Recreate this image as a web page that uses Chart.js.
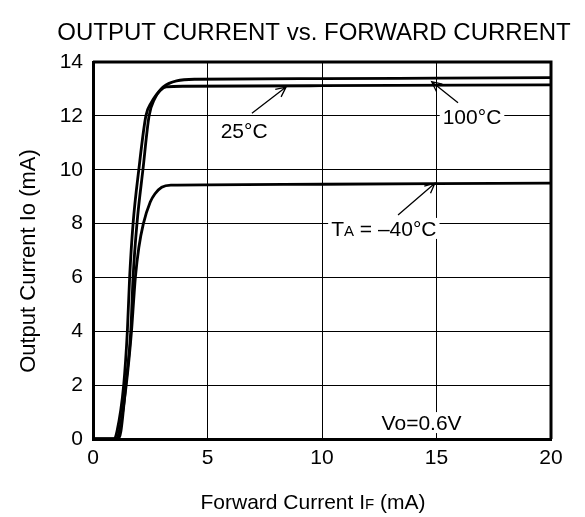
<!DOCTYPE html>
<html>
<head>
<meta charset="utf-8">
<script src="https://cdn.jsdelivr.net/npm/chart.js@4.4.1/dist/chart.umd.min.js"></script>
<style>
  html, body { margin: 0; padding: 0; background: #fff; }
  #wrap { width: 585px; height: 517px; }
</style>
</head>
<body>
<div id="wrap"><canvas id="chart" width="585" height="517"></canvas></div>
<script>
// Forward current IF (mA) / output current Io (mA)
const if100 = [0, 0.9, 1.05, 1.34, 1.5, 1.6, 1.75, 2.0, 2.31, 2.55, 2.78, 3.07, 3.65, 4.5, 10, 15, 20];
const io100 = [0, 0, 0.3, 2, 4, 6, 8, 10, 12, 12.5, 12.8, 13.08, 13.3, 13.36, 13.38, 13.4, 13.42];

const if25 = [0, 1.1, 1.22, 1.43, 1.65, 1.75, 1.92, 2.18, 2.45, 2.7, 2.95, 3.2, 4, 10, 20];
const io25 = [0, 0, 0.3, 2, 4, 6, 8, 10, 12, 12.65, 12.95, 13.08, 13.1, 13.12, 13.15];

const ifCold = [0, 1.0, 1.15, 1.45, 1.68, 1.78, 1.85, 2.0, 2.2, 2.5, 2.7, 3.0, 3.4, 5, 10, 20];
const ioCold = [0, 0, 0.3, 2, 4, 5.2, 6, 7.1, 8, 8.8, 9.1, 9.35, 9.43, 9.44, 9.46, 9.5];

const xTicks = [0, 5, 10, 15, 20];
const yTicks = [0, 2, 4, 6, 8, 10, 12, 14];

const FONT = '"Liberation Sans", Arial, sans-serif';

const toPoints = (xs, ys) => xs.map((x, i) => ({ x: x, y: ys[i] }));

// label + arrow positions, in data units
const notes = [
  { parts: [['25°C', 1]], at: [6.6, 11.47], from: [6.94, 12.1], to: [8.43, 13.07] },
  { parts: [['100°C', 1]], at: [16.55, 11.97], from: [15.94, 12.49], to: [14.79, 13.27] },
  { parts: [['T', 1], ['A', 0.72], [' = –40°C', 1]], at: [12.7, 7.82], from: [13.32, 8.32], to: [14.93, 9.5] },
  { parts: [['Vo=0.6V', 1]], at: [14.35, 0.61] }
];

function drawParts(ctx, parts, cx, cy, size, clearBg) {
  let widths = parts.map(p => {
    ctx.font = Math.round(size * p[1]) + 'px ' + FONT;
    return ctx.measureText(p[0]).width;
  });
  let total = widths.reduce((a, b) => a + b, 0);
  let x = cx - total / 2;
  if (clearBg) {
    ctx.fillStyle = '#fff';
    ctx.fillRect(x - 3, cy - size * 0.5, total + 6, size * 1.0);
  }
  ctx.fillStyle = '#000';
  ctx.textBaseline = 'alphabetic';
  ctx.textAlign = 'left';
  parts.forEach((p, i) => {
    ctx.font = Math.round(size * p[1]) + 'px ' + FONT;
    ctx.fillText(p[0], x, cy + size * 0.36);
    x += widths[i];
  });
}

function arrow(ctx, x1, y1, x2, y2) {
  const ang = Math.atan2(y2 - y1, x2 - x1);
  const len = 11, spread = 0.45;
  ctx.beginPath();
  ctx.moveTo(x1, y1);
  ctx.lineTo(x2, y2);
  ctx.moveTo(x2 - len * Math.cos(ang - spread), y2 - len * Math.sin(ang - spread));
  ctx.lineTo(x2, y2);
  ctx.lineTo(x2 - len * Math.cos(ang + spread), y2 - len * Math.sin(ang + spread));
  ctx.stroke();
}

const decorations = {
  id: 'decorations',
  afterDatasetsDraw(chart) {
    const { ctx, scales: { x, y }, chartArea: a } = chart;
    ctx.save();

    // top and right frame
    ctx.strokeStyle = '#000';
    ctx.lineWidth = 3;
    ctx.beginPath();
    ctx.moveTo(a.left, a.top);
    ctx.lineTo(a.right, a.top);
    ctx.lineTo(a.right, a.bottom);
    ctx.stroke();

    // annotations
    ctx.lineWidth = 1.3;
    notes.forEach(n => {
      drawParts(ctx, n.parts, x.getPixelForValue(n.at[0]), y.getPixelForValue(n.at[1]), 21, true);
      if (n.from) {
        ctx.strokeStyle = '#000';
        arrow(ctx, x.getPixelForValue(n.from[0]), y.getPixelForValue(n.from[1]),
              x.getPixelForValue(n.to[0]), y.getPixelForValue(n.to[1]));
      }
    });

    // chart title
    drawParts(ctx, [['OUTPUT CURRENT vs. FORWARD CURRENT', 1]], 314, 31, 24, false);

    // x axis title
    drawParts(ctx, [['Forward Current I', 1], ['F', 0.72], [' (mA)', 1]], 313, 501, 21, false);

    // y axis title
    ctx.translate(27, 261);
    ctx.rotate(-Math.PI / 2);
    drawParts(ctx, [['Output Current Io (mA)', 1]], 0, 0, 22, false);
    ctx.restore();
  }
};

const lineStyle = {
  borderColor: '#000',
  borderWidth: 2.8,
  pointRadius: 0,
  fill: false,
  showLine: true,
  cubicInterpolationMode: 'monotone'
};

new Chart(document.getElementById('chart'), {
  type: 'scatter',
  data: {
    datasets: [
      Object.assign({ label: '100°C', data: toPoints(if100, io100) }, lineStyle),
      Object.assign({ label: '25°C', data: toPoints(if25, io25) }, lineStyle),
      Object.assign({ label: 'TA = –40°C', data: toPoints(ifCold, ioCold) }, lineStyle)
    ]
  },
  options: {
    responsive: false,
    animation: false,
    layout: { padding: { top: 62, right: 34, left: 0, bottom: 0 } },
    plugins: {
      legend: { display: false },
      tooltip: { enabled: false }
    },
    scales: {
      x: {
        type: 'linear',
        min: 0,
        max: 20,
        afterFit: (s) => { s.height = 78; },
        afterBuildTicks: (s) => { s.ticks = xTicks.map(v => ({ value: v })); },
        border: { display: true, color: '#000', width: 3 },
        grid: { color: '#000', lineWidth: 1, drawTicks: false },
        ticks: { color: '#000', padding: 7, font: { family: FONT, size: 21 } }
      },
      y: {
        type: 'linear',
        min: 0,
        max: 14,
        afterFit: (s) => { s.width = 93; },
        afterBuildTicks: (s) => { s.ticks = yTicks.map(v => ({ value: v })); },
        border: { display: true, color: '#000', width: 3 },
        grid: { color: '#000', lineWidth: 1, drawTicks: false },
        ticks: { color: '#000', padding: 10, font: { family: FONT, size: 21 } }
      }
    }
  },
  plugins: [decorations]
});
</script>
</body>
</html>
